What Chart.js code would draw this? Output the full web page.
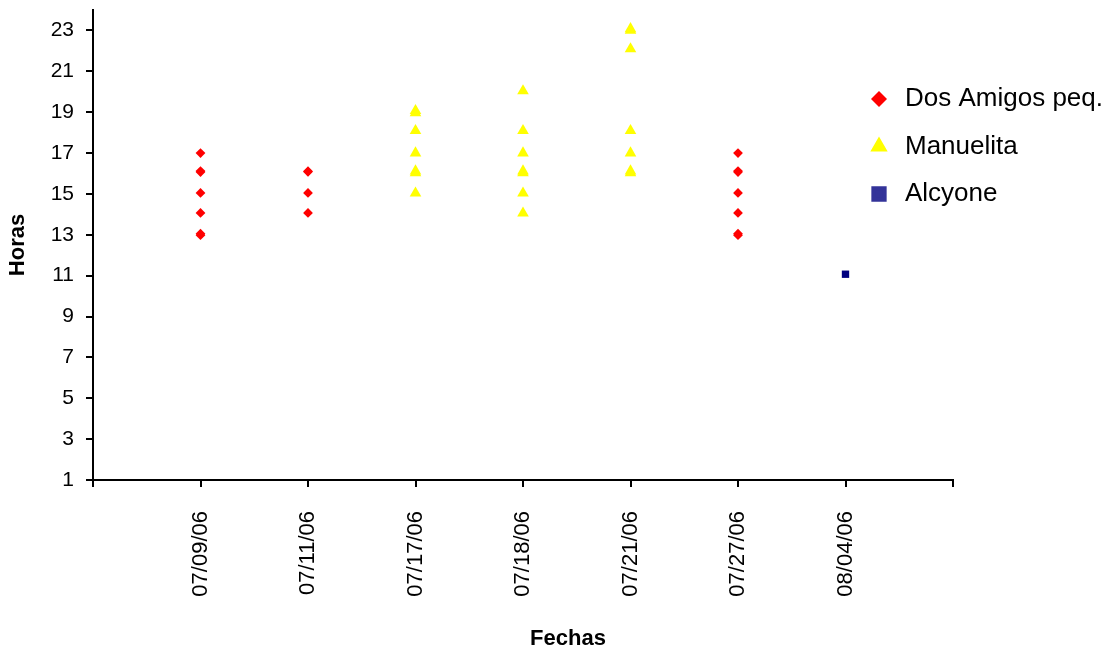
<!DOCTYPE html>
<html>
<head>
<meta charset="utf-8">
<script src="https://cdn.jsdelivr.net/npm/chart.js@4/dist/chart.umd.min.js"></script>
<style>
  html, body { margin: 0; padding: 0; background: #fff; }
  #wrap { width: 1120px; height: 652px; }
</style>
</head>
<body>
<div id="wrap"><canvas id="c" width="1120" height="652"></canvas></div>
<script>
// Fechas de muestreo (posición 1..7 en el eje X)
const fechas = ['07/09/06', '07/11/06', '07/17/06', '07/18/06', '07/21/06', '07/27/06', '08/04/06'];
const xTicks = [0, 1, 2, 3, 4, 5, 6, 7, 8];
const yTicks = [1, 3, 5, 7, 9, 11, 13, 15, 17, 19, 21, 23];

// Dos Amigos peq.
const dosAmigosFecha = [1, 1, 1, 1, 1, 1, 1, 2, 2, 2, 2, 6, 6, 6, 6, 6, 6, 6];
const dosAmigosHora = [17.0, 16.07, 16.12, 15.05, 14.07, 12.98, 13.05,
                       16.08, 16.11, 15.05, 14.07,
                       17.0, 16.07, 16.12, 15.05, 14.07, 12.98, 13.05];

// Manuelita
const manuelitaFecha = [3, 3, 3, 3, 3, 3, 3, 4, 4, 4, 4, 4, 4, 4, 5, 5, 5, 5, 5, 5, 5];
const manuelitaHora = [18.97, 19.07, 18.09, 17.0, 16.03, 16.12, 15.04,
                       20.04, 18.09, 17.0, 16.03, 16.12, 15.04, 14.06,
                       23.0, 23.08, 22.1, 18.09, 17.0, 16.03, 16.12];

// Alcyone
const alcyoneFecha = [7];
const alcyoneHora = [11.07];

const pts = (xs, ys) => xs.map((x, i) => ({ x: x, y: ys[i] }));

const FONT = "Arial, 'Liberation Sans', sans-serif";
Chart.defaults.color = '#000';
Chart.defaults.font.family = FONT;

// Places the legend box at the upper right, overlapping the plot edge
const legendPlacement = {
  id: 'legendPlacement',
  afterLayout(chart) {
    const lg = chart.legend;
    if (!lg) return;
    const w = lg.width, h = lg.height;
    lg.left = 844.5;
    lg.top = 64.5;
    lg.right = lg.left + w;
    lg.bottom = lg.top + h;
  }
};

const axisLine = { display: true, color: '#000', width: 2 };
const axisGrid = { display: true, drawOnChartArea: false, drawTicks: true, tickLength: 7, color: '#000', lineWidth: 2 };

new Chart(document.getElementById('c'), {
  type: 'scatter',
  data: {
    datasets: [
      {
        label: 'Dos Amigos peq.',
        data: pts(dosAmigosFecha, dosAmigosHora),
        pointStyle: 'rectRot',
        pointRadius: 4.9,
        pointHoverRadius: 4.9,
        backgroundColor: '#FF0000',
        borderColor: '#FF0000',
        pointBorderWidth: 0
      },
      {
        label: 'Manuelita',
        data: pts(manuelitaFecha, manuelitaHora),
        pointStyle: 'triangle',
        pointRadius: 6.7,
        pointHoverRadius: 6.7,
        backgroundColor: '#FFFF00',
        borderColor: '#FFFF00',
        pointBorderWidth: 0
      },
      {
        label: 'Alcyone',
        data: pts(alcyoneFecha, alcyoneHora),
        pointStyle: 'rect',
        pointRadius: 5.2,
        pointHoverRadius: 5.2,
        backgroundColor: '#000080',
        borderColor: '#000080',
        pointBorderWidth: 0
      }
    ]
  },
  options: {
    responsive: false,
    devicePixelRatio: 1,
    animation: false,
    events: [],
    layout: { padding: { left: 16, top: 10, right: 0, bottom: 0 } },
    scales: {
      x: {
        type: 'linear',
        min: 0,
        max: 8,
        border: axisLine,
        grid: axisGrid,
        afterBuildTicks: (axis) => { axis.ticks = xTicks.map(v => ({ value: v })); },
        afterFit: (axis) => {
          axis.height = 145.6;
          axis.paddingLeft = 0;
          axis.paddingRight = 0;
        },
        ticks: {
          autoSkip: false,
          maxRotation: 90,
          minRotation: 90,
          padding: 24,
          font: { size: 22, family: FONT },
          callback: (v) => (v >= 1 && v <= fechas.length) ? fechas[v - 1] : ''
        }
      },
      y: {
        type: 'linear',
        min: 1,
        max: 24,
        border: axisLine,
        grid: axisGrid,
        afterBuildTicks: (axis) => { axis.ticks = yTicks.map(v => ({ value: v })); },
        afterFit: (axis) => {
          axis.width = 77;
          axis.paddingTop = 0;
          axis.paddingBottom = 0;
        },
        ticks: {
          padding: 12,
          font: { size: 21, family: FONT }
        },
        title: {
          display: true,
          text: 'Horas',
          font: { size: 22, weight: 'bold', family: FONT },
          padding: { top: -11, bottom: 0 }
        }
      },
      yRight: {
        type: 'linear',
        position: 'right',
        display: true,
        grid: { display: false },
        border: { display: false },
        ticks: { display: false },
        afterFit: (axis) => {
          axis.width = 167;
          axis.paddingTop = 0;
          axis.paddingBottom = 0;
        }
      }
    },
    plugins: {
      tooltip: { enabled: false },
      title: {
        display: true,
        position: 'bottom',
        text: 'Fechas',
        color: '#000',
        font: { size: 22, weight: 'bold', family: FONT },
        padding: { top: 0, bottom: 0 }
      },
      legend: {
        display: true,
        position: 'chartArea',
        align: 'start',
        labels: {
          usePointStyle: true,
          boxWidth: 26,
          boxHeight: 11.3,
          padding: 21.5,
          color: '#000',
          font: { size: 26, family: FONT },
          generateLabels: (chart) => {
            const items = Chart.defaults.plugins.legend.labels.generateLabels(chart);
            const fills = ['#FF0000', '#FFFF00', '#333399'];
            const strokes = [0, 2, 4];
            items.forEach((it, i) => {
              it.fillStyle = fills[i];
              it.strokeStyle = fills[i];
              it.lineWidth = strokes[i];
            });
            return items;
          }
        }
      }
    }
  },
  plugins: [legendPlacement]
});
</script>
</body>
</html>
